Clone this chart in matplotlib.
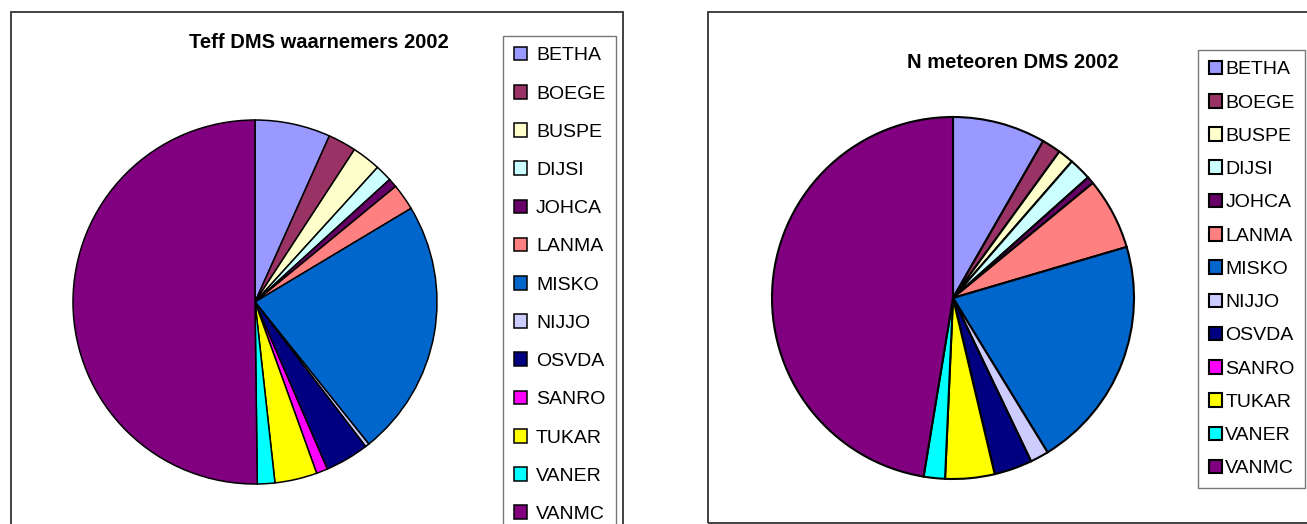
import matplotlib
matplotlib.use("Agg")
import matplotlib.pyplot as plt
from matplotlib.patches import Rectangle

plt.rcParams['font.family'] = ['Liberation Sans', 'DejaVu Sans']

observers = ["BETHA", "BOEGE", "BUSPE", "DIJSI", "JOHCA", "LANMA", "MISKO",
             "NIJJO", "OSVDA", "SANRO", "TUKAR", "VANER", "VANMC"]
colors = ["#9999FF", "#993366", "#FFFFCC", "#CCFFFF", "#660066", "#FF8080",
          "#0066CC", "#CCCCFF", "#000080", "#FF00FF", "#FFFF00", "#00FFFF",
          "#800080"]

# percentages
teff = [6.7, 2.5, 2.55, 1.5, 0.8, 2.35, 22.85, 0.35, 3.9, 1.0, 3.75, 1.55, 50.2]
n_meteors = [8.3, 1.7, 1.4, 2.0, 0.65, 6.4, 20.8, 1.65, 3.4, 0.0, 4.4, 1.9, 47.4]

W, H = 1307, 524
fig = plt.figure(figsize=(W / 100, H / 100), dpi=100)


def px_axes(cx, cy, r):
    # axes box in figure fraction around a pie centred at pixel (cx, cy)
    return fig.add_axes([(cx - r) / W, (H - cy - r) / H, 2 * r / W, 2 * r / H])


def panel(x0, y0, x1, y1):
    fig.patches.append(Rectangle((x0 / W, 1 - y1 / H), (x1 - x0) / W, (y1 - y0) / H,
                                 transform=fig.transFigure, fill=False,
                                 edgecolor="#333333", linewidth=1.3))


panel(11, 12, 623, 560)
panel(708, 12, 1340, 523)

# left chart
ax1 = px_axes(255, 302, 182)
w1, _ = ax1.pie(teff, colors=colors, startangle=90, counterclock=False,
                wedgeprops=dict(edgecolor="black", linewidth=1.1))
ax1.set_xlim(-1, 1)
ax1.set_ylim(-1, 1)
ax1.axis("off")
fig.text(319 / W, 1 - 42 / H, "Teff DMS waarnemers 2002", ha="center", va="center",
         fontsize=14.5, fontweight="bold")
leg1 = fig.legend(w1, observers, loc="upper left", bbox_to_anchor=(503 / W, 1 - 36 / H),
                  borderaxespad=0, fontsize=14, frameon=True, fancybox=False,
                  edgecolor="#555555", labelspacing=1.06, handlelength=0.7,
                  handleheight=0.7, handletextpad=0.45, borderpad=0.55)
leg1.get_frame().set_linewidth(1.0)

# right chart
ax2 = px_axes(953, 298, 181)
w2, _ = ax2.pie(n_meteors, colors=colors, startangle=90, counterclock=False,
                wedgeprops=dict(edgecolor="black", linewidth=1.5))
ax2.set_xlim(-1, 1)
ax2.set_ylim(-1, 1)
ax2.axis("off")
fig.text(1013 / W, 1 - 63 / H, "N meteoren DMS 2002", ha="center", va="center",
         fontsize=14.5, fontweight="bold")
leg2 = fig.legend(w2, observers, loc="upper left", bbox_to_anchor=(1198 / W, 1 - 50 / H),
                  borderaxespad=0, fontsize=14, frameon=True, fancybox=False,
                  edgecolor="#555555", labelspacing=0.805, handlelength=0.7,
                  handleheight=0.7, handletextpad=0.15, borderpad=0.55)
leg2.get_frame().set_linewidth(1.0)

fig.savefig("out.png", dpi=100)
